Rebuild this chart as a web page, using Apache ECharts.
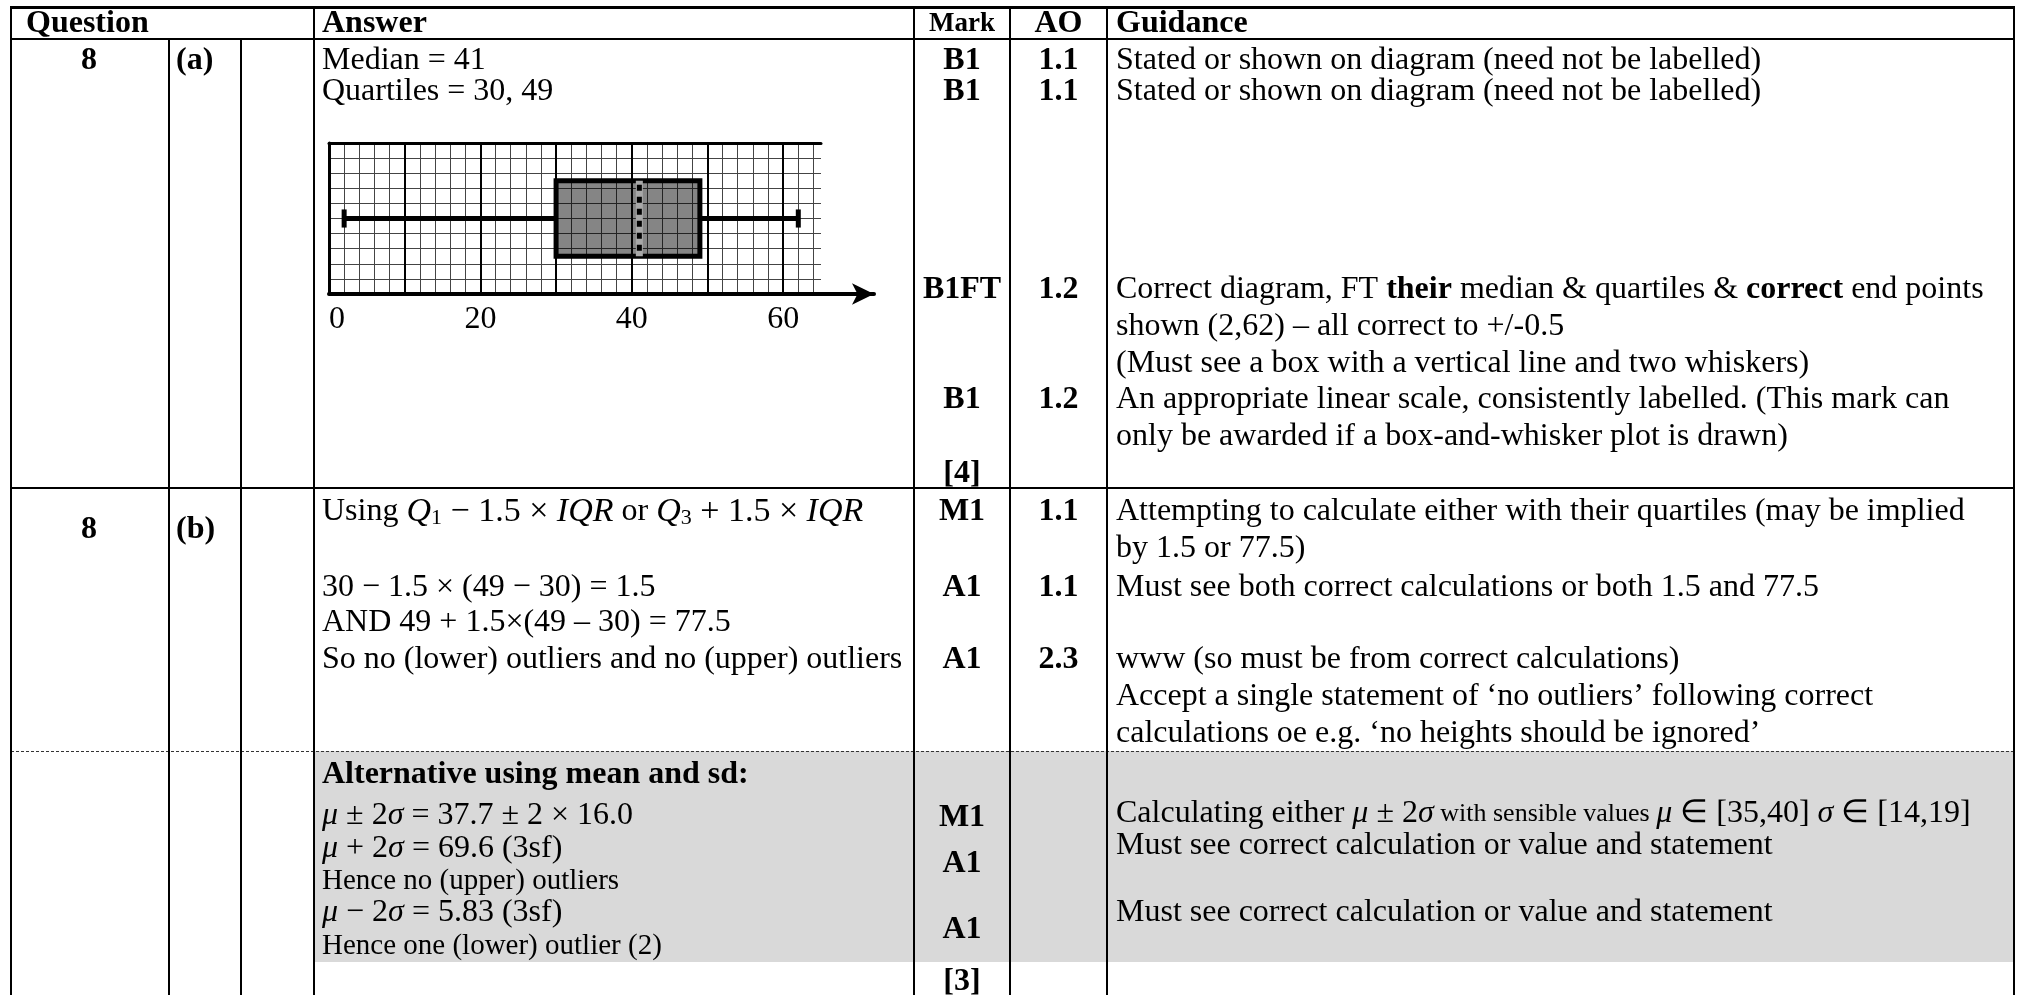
<!DOCTYPE html>
<html>
<head>
<meta charset="utf-8">
<title>Mark scheme 8</title>
<script src="https://cdn.jsdelivr.net/npm/echarts/dist/echarts.min.js"></script>
<style>
  html, body { margin: 0; padding: 0; background: #fff; }
  #main { width: 2020px; height: 995px; }
</style>
</head>
<body>
<div id="main"></div>
<script>
// box plot values: lower end, Q1, median, Q3, upper end
var boxStats = [2, 30, 41, 49, 62];
var scaleTicks = [0, 20, 40, 60];

// table content
var headers = ['Question', 'Answer', 'Mark', 'AO', 'Guidance'];
var questionNo = ['8', '8'];
var questionPart = ['(a)', '(b)'];
var answerText = [
    'Median = 41',
    'Quartiles = 30, 49',
    '{n|Using }{m|Q}{sub|1}{mn| − 1.5 × }{m|IQR}{n| or }{m|Q}{sub|3}{mn| + 1.5 × }{m|IQR}',
    '30 − 1.5 × (49 − 30) = 1.5',
    'AND 49 + 1.5×(49 – 30) = 77.5',
    'So no (lower) outliers and no (upper) outliers',
    '{b|Alternative using mean and sd:}',
    '{i|μ}{n| ± 2}{i|σ}{n| = 37.7 ± 2 × 16.0}',
    '{i|μ}{n| + 2}{i|σ}{n| = 69.6 (3sf)}',
    '{h|Hence no (upper) outliers}',
    '{i|μ}{n| − 2}{i|σ}{n| = 5.83 (3sf)}',
    '{h|Hence one (lower) outlier (2)}'
];
var markText = ['B1', 'B1', 'B1FT', 'B1', '[4]', 'M1', 'A1', 'A1', 'M1', 'A1', 'A1', '[3]'];
var aoText = ['1.1', '1.1', '1.2', '1.2', '1.1', '1.1', '2.3'];
var guidanceText = [
    'Stated or shown on diagram (need not be labelled)',
    'Stated or shown on diagram (need not be labelled)',
    '{n|Correct diagram, FT }{b|their}{n| median & quartiles & }{b|correct}{n| end points}',
    'shown (2,62) – all correct to +/-0.5',
    '(Must see a box with a vertical line and two whiskers)',
    'An appropriate linear scale, consistently labelled. (This mark can',
    'only be awarded if a box-and-whisker plot is drawn)',
    'Attempting to calculate either with their quartiles (may be implied',
    'by 1.5 or 77.5)',
    'Must see both correct calculations or both 1.5 and 77.5',
    'www (so must be from correct calculations)',
    'Accept a single statement of ‘no outliers’ following correct',
    'calculations oe e.g. ‘no heights should be ignored’',
    '{n|Calculating either }{i|μ}{n| ± 2}{i|σ}{s| with sensible values }{i|μ}{n| ∈ [35,40] }{i|σ}{n| ∈ [14,19]}',
    'Must see correct calculation or value and statement',
    'Must see correct calculation or value and statement'
];

// layout (pixels)
var colX = [11, 169, 241, 314, 914, 1010, 1107, 2014];
var headBottom = 39;
var headY = 24;
var partY = [61, 530];
var answerY = [61, 92, 512, 588, 623, 660, 775, 816, 849, 881, 913, 946];
var markY = [61, 92, 290, 400, 474, 512, 588, 660, 818, 864, 930, 982];
var aoY = [61, 92, 290, 400, 512, 588, 660];
var guidanceY = [61, 92, 290, 327, 364, 400, 437, 512, 549, 588, 660, 697, 734, 814, 846, 913];

var FONT = "'Liberation Serif', 'Times New Roman', serif";
var RICH = {
    n: {fontFamily: FONT, fontSize: 32, fill: '#000'},
    b: {fontFamily: FONT, fontSize: 32, fontWeight: 'bold', fill: '#000'},
    i: {fontFamily: FONT, fontSize: 32, fontStyle: 'italic', fill: '#000'},
    m: {fontFamily: FONT, fontSize: 34, fontStyle: 'italic', fill: '#000'},
    mn: {fontFamily: FONT, fontSize: 34, fill: '#000'},
    sub: {fontFamily: FONT, fontSize: 22, fill: '#000', verticalAlign: 'bottom', lineHeight: 14},
    s: {fontFamily: FONT, fontSize: 26, fill: '#000'},
    h: {fontFamily: FONT, fontSize: 29, fill: '#000'},
    mk: {fontFamily: FONT, fontSize: 27, fontWeight: 'bold', fill: '#000'}
};
var BOX_MID = 5, BOX_HALF = 2.5, CAP_HALF = 0.6;

function txt(x, y, str, align, tag) {
    var s = str.charAt(0) === '{' ? str : '{' + (tag || 'n') + '|' + str + '}';
    return {
        type: 'text', x: x, y: y, silent: true, z: 10,
        style: {text: s, rich: RICH, align: align || 'left', verticalAlign: 'middle'}
    };
}
function line(x1, y1, x2, y2, w, dash) {
    return {
        type: 'line', silent: true, z: 5,
        shape: {x1: x1, y1: y1, x2: x2, y2: y2},
        style: {stroke: dash ? '#333' : '#000', lineWidth: w || 2, lineDash: dash || null}
    };
}

var els = [];
// shaded alternative block
els.push({type: 'rect', silent: true, z: 1, shape: {x: colX[3], y: 751, width: colX[7] - colX[3], height: 211}, style: {fill: '#d9d9d9'}});

// horizontal rules
els.push(line(colX[0] - 1, 7.5, colX[7] + 1, 7.5, 3));
els.push(line(colX[0], headBottom, colX[7], headBottom, 2));
els.push(line(colX[0], 488, colX[7], 488, 2));
els.push(line(colX[0], 751.5, colX[7], 751.5, 1, [3, 2]));
// vertical rules
colX.forEach(function (x, k) {
    var top = (k === 1 || k === 2) ? headBottom : 7;
    els.push(line(x, top, x, 995, 2));
});

// header
els.push(txt(26, headY, headers[0], 'left', 'b'));
els.push(txt(colX[3] + 8, headY, headers[1], 'left', 'b'));
els.push(txt((colX[4] + colX[5]) / 2, headY, headers[2], 'center', 'mk'));
els.push(txt((colX[5] + colX[6]) / 2, headY, headers[3], 'center', 'b'));
els.push(txt(colX[6] + 9, headY, headers[4], 'left', 'b'));

for (var q = 0; q < questionNo.length; q++) {
    els.push(txt(89, partY[q], questionNo[q], 'center', 'b'));
    els.push(txt(176, partY[q], questionPart[q], 'left', 'b'));
}
answerText.forEach(function (t, k) { els.push(txt(colX[3] + 8, answerY[k], t, 'left')); });
markText.forEach(function (t, k) { els.push(txt((colX[4] + colX[5]) / 2, markY[k], t, 'center', 'b')); });
aoText.forEach(function (t, k) { els.push(txt((colX[5] + colX[6]) / 2, aoY[k], t, 'center', 'b')); });
guidanceText.forEach(function (t, k) { els.push(txt(colX[6] + 9, guidanceY[k], t, 'left')); });

var chart = echarts.init(document.getElementById('main'));

var option = {
    animation: false,
    backgroundColor: '#fff',
    grid: [
        {left: 329, top: 143, width: 492, height: 151},
        {left: 329, top: 244, width: 545, height: 50}
    ],
    xAxis: [
        {
            gridIndex: 0, type: 'value', position: 'bottom', min: 0, max: 65, interval: 2,
            axisLine: {show: false}, axisTick: {show: false}, axisLabel: {show: false},
            splitLine: {show: true, showMaxLine: false, lineStyle: {color: '#444', width: 1}}
        },
        {
            gridIndex: 0, type: 'value', position: 'bottom', min: 0, max: 65, interval: 10,
            axisLine: {show: false}, axisTick: {show: false}, axisLabel: {show: false},
            splitLine: {show: true, showMaxLine: false, lineStyle: {color: '#000', width: 2}}
        },
        {
            gridIndex: 0, type: 'value', position: 'top', min: 0, max: 65,
            axisLine: {show: true, onZero: false, lineStyle: {color: '#000', width: 3}},
            axisTick: {show: false}, axisLabel: {show: false}, splitLine: {show: false}
        },
        {
            gridIndex: 1, type: 'value', position: 'bottom', min: 0, max: 72, interval: 20,
            axisLine: {show: true, onZero: false, symbol: ['none', 'arrow'], symbolSize: [16, 22],
                lineStyle: {color: '#000', width: 4}},
            axisTick: {show: false},
            axisLabel: {
                show: true, margin: 10, fontFamily: FONT, fontSize: 32, color: '#000',
                showMaxLabel: false, alignMinLabel: 'left',
                formatter: function (v) { return scaleTicks.indexOf(v) >= 0 ? String(v) : ''; }
            },
            splitLine: {show: false}
        }
    ],
    yAxis: [
        {
            gridIndex: 0, type: 'value', min: 0, max: 10, interval: 1,
            axisLine: {show: true, onZero: false, lineStyle: {color: '#000', width: 3}},
            axisTick: {show: false}, axisLabel: {show: false},
            splitLine: {show: true, showMinLine: false, showMaxLine: false, lineStyle: {color: '#444', width: 1}}
        },
        {gridIndex: 1, type: 'value', min: 0, max: 1, show: false}
    ],
    series: [{
        type: 'custom',
        xAxisIndex: 0,
        yAxisIndex: 0,
        clip: false,
        silent: true,
        z: 3,
        data: [boxStats.concat([BOX_MID])],
        encode: {x: [0, 1, 2, 3, 4], y: 5},
        renderItem: function (params, api) {
            var lo = api.value(0), q1 = api.value(1), med = api.value(2), q3 = api.value(3), hi = api.value(4);
            var mid = api.value(5);
            var a = api.coord([q1, mid + BOX_HALF]);
            var b = api.coord([q3, mid - BOX_HALF]);
            var pLo = api.coord([lo, mid]), pQ1 = api.coord([q1, mid]);
            var pQ3 = api.coord([q3, mid]), pHi = api.coord([hi, mid]);
            var capT = api.coord([lo, mid + CAP_HALF])[1], capB = api.coord([lo, mid - CAP_HALF])[1];
            var medT = api.coord([med, mid + BOX_HALF]), medB = api.coord([med, mid - BOX_HALF]);
            var blk = {stroke: '#000', lineWidth: 5};
            return {
                type: 'group',
                children: [
                    {type: 'line', shape: {x1: pLo[0], y1: pLo[1], x2: pQ1[0], y2: pQ1[1]}, style: blk},
                    {type: 'line', shape: {x1: pQ3[0], y1: pQ3[1], x2: pHi[0], y2: pHi[1]}, style: blk},
                    {type: 'line', shape: {x1: pLo[0], y1: capT, x2: pLo[0], y2: capB}, style: blk},
                    {type: 'line', shape: {x1: pHi[0], y1: capT, x2: pHi[0], y2: capB}, style: blk},
                    {type: 'rect', shape: {x: a[0], y: a[1], width: b[0] - a[0], height: b[1] - a[1]},
                        style: {fill: 'rgba(0,0,0,0.48)', stroke: '#000', lineWidth: 5}},
                    {type: 'line', shape: {x1: medT[0], y1: medT[1], x2: medB[0], y2: medB[1]},
                        style: {stroke: '#a8a8a8', lineWidth: 7}},
                    {type: 'line', shape: {x1: medT[0], y1: medT[1] + 4, x2: medB[0], y2: medB[1]},
                        style: {stroke: '#000', lineWidth: 5, lineDash: [6, 6]}}
                ]
            };
        }
    }],
    graphic: {elements: els}
};

chart.setOption(option);
</script>
</body>
</html>
